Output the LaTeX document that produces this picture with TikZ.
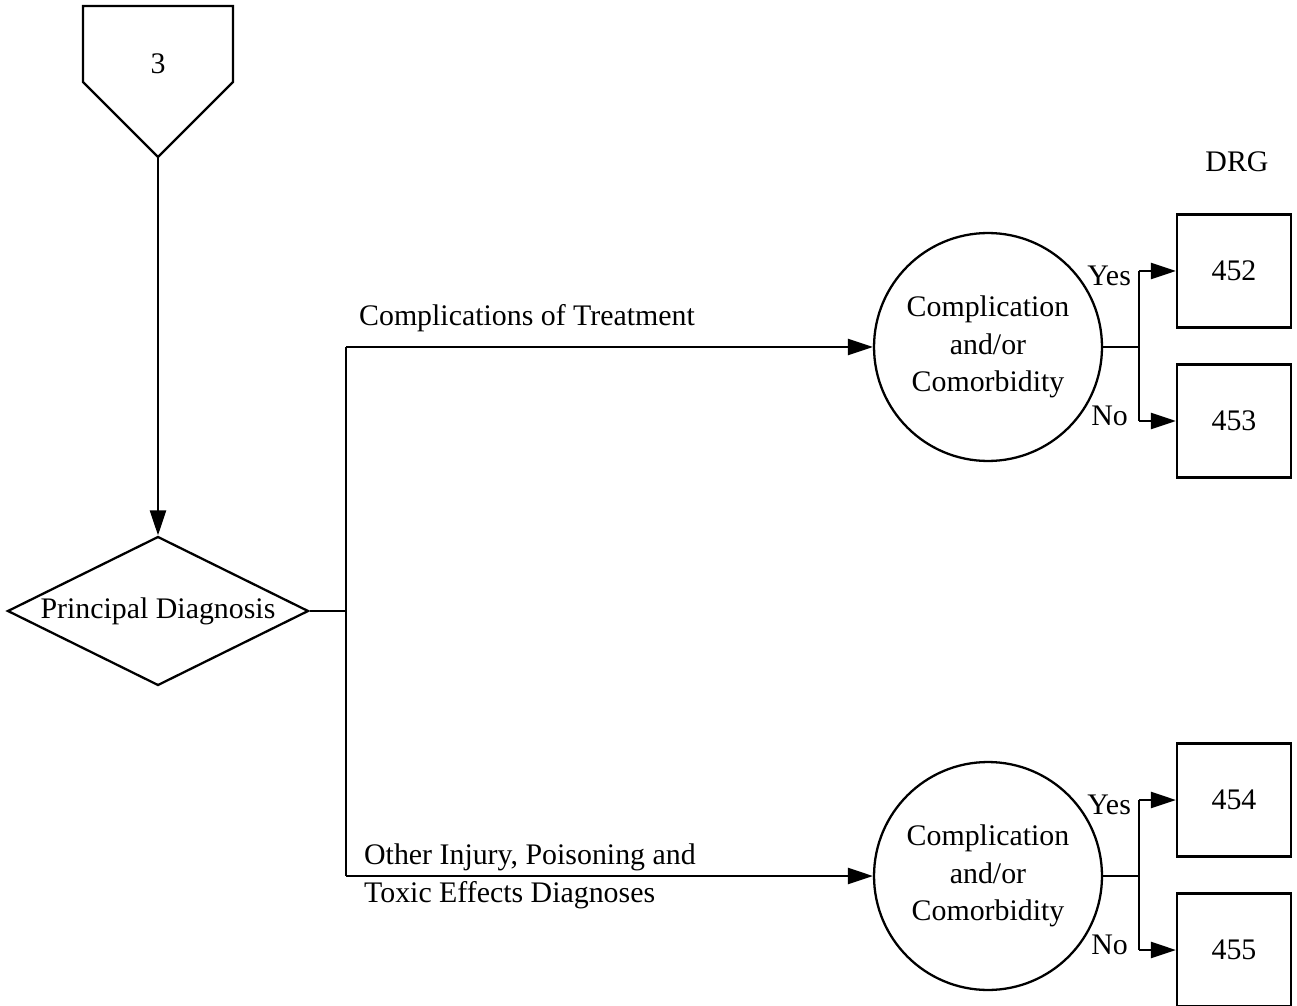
\documentclass[tikz,border=0pt]{standalone}
\usepackage{fontspec}
\setmainfont{Liberation Serif}
\usetikzlibrary{shapes.geometric,arrows.meta,positioning}

\begin{document}
\begin{tikzpicture}[x=0.02cm, y=-0.02cm, line width=1.3pt,
  every node/.style={font=\fontsize{17}{21.5}\selectfont},
  flowarrow/.style={-{Triangle[length=0.5cm, width=0.32cm]}},
  decision/.style={draw, diamond, aspect=2, inner sep=0pt, minimum width=6.02cm, minimum height=2.98cm},
  ccnode/.style={draw, circle, inner sep=0pt, minimum size=4.56cm, align=center},
  drgbox/.style={draw, rectangle, minimum width=2.28cm, minimum height=2.26cm},
  branchlbl/.style={anchor=west, align=left, inner sep=0pt}]
  \useasboundingbox (0,0) rectangle (1297,1006);

  % off-page connector
  \draw (83,6) -- (233,6) -- (233,82) -- (158,157) -- (83,82) -- cycle;
  \node (pg3) at (158,64) {3};
  \coordinate (pgtip) at (158,157);

  \node[decision] (diag) at (158,611) {Principal Diagnosis};
  \draw[flowarrow] (pgtip) -- (diag.north);

  % split to the two groups
  \coordinate (split) at (346,611);
  \coordinate (splitup) at (346,347);
  \coordinate (splitdn) at (346,876);
  \node[ccnode] (cc452) at (988,347) {Complication\\and/or\\Comorbidity};
  \node[ccnode] (cc454) at (988,876) {Complication\\and/or\\Comorbidity};
  \draw (diag.east) -- (split);
  \draw (splitup) -- (splitdn);
  \draw[flowarrow] (splitup) -- (cc452.west);
  \draw[flowarrow] (splitdn) -- (cc454.west);
  \node[branchlbl] (lbltreat) at (358,318) {Complications of Treatment};
  \node[branchlbl] (lblother) at (363,876) {Other Injury, Poisoning and\\Toxic Effects Diagnoses};

  \node (drg) at (1237,162) {DRG};

  % cc forks to the DRG boxes
  \foreach \cy/\ya/\yb/\na/\nb in {347/271/421/452/453, 876/800/950/454/455}{
    \node[drgbox] (d\na) at (1234,\ya) {\na};
    \node[drgbox] (d\nb) at (1234,\yb) {\nb};
    \coordinate (fork\na) at (1139,\cy);
    \coordinate (yes\na) at (1139,\ya);
    \coordinate (no\na) at (1139,\yb);
    \draw (cc\na.east) -- (fork\na);
    \draw (yes\na) -- (no\na);
    \draw[flowarrow] (yes\na) -- (d\na.west);
    \draw[flowarrow] (no\na) -- (d\nb.west);
    \node[anchor=east, inner sep=0pt] (ylbl\na) at (1132,\ya+5) {Yes};
    \node[anchor=east, inner sep=0pt] (nlbl\na) at (1129,\yb-5) {No};
  }
\end{tikzpicture}
\end{document}
